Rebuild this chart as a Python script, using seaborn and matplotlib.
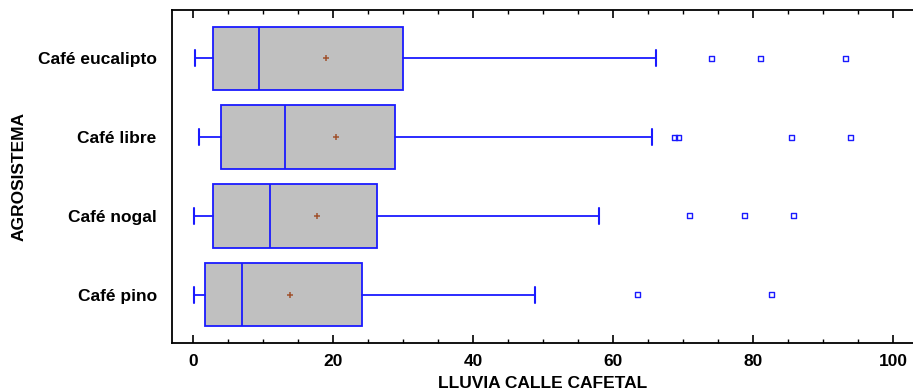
import matplotlib
matplotlib.use("Agg")
import matplotlib.pyplot as plt
from matplotlib.ticker import MultipleLocator
import seaborn as sns
import pandas as pd

# Summary statistics of rainfall per agro-system
groups = ["Café eucalipto", "Café libre", "Café nogal", "Café pino"]
whisker_low = [0.3, 0.8, 0.1, 0.1]
q1 = [2.9, 4.0, 2.8, 1.7]
median = [9.4, 13.2, 11.0, 7.0]
q3 = [30.0, 28.8, 26.2, 24.1]
whisker_high = [66.1, 65.5, 58.0, 48.8]
means = [19.0, 20.4, 17.7, 13.9]
outliers = [
    [74.0, 81.0, 93.2],
    [68.8, 69.3, 85.4, 93.9],
    [70.9, 78.8, 85.7],
    [63.5, 82.6],
]
x_ticks = [0, 20, 40, 60, 80, 100]

sns.set_style("white")
plt.rcParams["font.family"] = ["Liberation Sans", "DejaVu Sans"]
plt.rcParams["font.weight"] = "bold"
plt.rcParams["text.color"] = "black"
plt.rcParams["axes.labelcolor"] = "black"
plt.rcParams["xtick.color"] = "black"
plt.rcParams["ytick.color"] = "black"

blue = "#1a1aff"
fig = plt.figure(figsize=(9.13, 3.91), dpi=100)
ax = fig.add_axes([0.1884, 0.1228, 0.8116, 0.8516])

stats = [
    dict(label=g, whislo=lo, q1=a, med=m, q3=b, whishi=hi, fliers=[])
    for g, lo, a, m, b, hi in zip(groups, whisker_low, q1, median, q3, whisker_high)
]
ax.bxp(
    stats,
    positions=range(len(groups)),
    orientation="horizontal",
    widths=0.8,
    capwidths=0.2,
    patch_artist=True,
    showfliers=False,
    boxprops=dict(facecolor="#c0c0c0", edgecolor=blue, linewidth=1.3),
    whiskerprops=dict(color=blue, linewidth=1.3),
    capprops=dict(color=blue, linewidth=1.5),
    medianprops=dict(color=blue, linewidth=1.3),
)

mean_df = pd.DataFrame({"value": means, "pos": range(len(groups))})
sns.scatterplot(data=mean_df, x="value", y="pos", marker="+", s=18,
                color="#a0522d", linewidth=1.1, ax=ax, zorder=5)

out_df = pd.DataFrame(
    [(v, i) for i, vals in enumerate(outliers) for v in vals],
    columns=["value", "pos"],
)
sns.scatterplot(data=out_df, x="value", y="pos", marker="s", s=13,
                facecolors="none", edgecolor=blue, linewidth=1.0, ax=ax, zorder=5)

ax.set_xlim(-3, 102.8)
ax.set_ylim(len(groups) - 1 + 0.61, -0.61)
ax.set_yticks(range(len(groups)))
ax.set_yticklabels(groups, fontsize=12.5, fontweight="bold")
ax.set_xticks(x_ticks)
ax.set_xticklabels([str(t) for t in x_ticks], fontsize=12.5, fontweight="bold")
ax.xaxis.set_minor_locator(MultipleLocator(5))

ax.tick_params(axis="x", which="major", direction="in", top=True, bottom=True,
               length=6, width=1.2, color="black", pad=8)
ax.tick_params(axis="x", which="minor", direction="in", top=True, bottom=True,
               length=3, width=1.0, color="black")
ax.tick_params(axis="y", length=0, pad=11)

for side in ["left", "bottom", "top"]:
    ax.spines[side].set_visible(True)
    ax.spines[side].set_color("black")
    ax.spines[side].set_linewidth(1.3)
ax.spines["right"].set_visible(False)

ax.set_xlabel("LLUVIA CALLE CAFETAL", fontsize=12.5, fontweight="bold")
ax.xaxis.label.set_verticalalignment("center")
ax.xaxis.set_label_coords(0.5, -0.123)
ax.set_ylabel("AGROSISTEMA", fontsize=12.5, fontweight="bold")
ax.yaxis.set_label_coords(-0.196, 0.5)

fig.savefig("out.png", dpi=100)
